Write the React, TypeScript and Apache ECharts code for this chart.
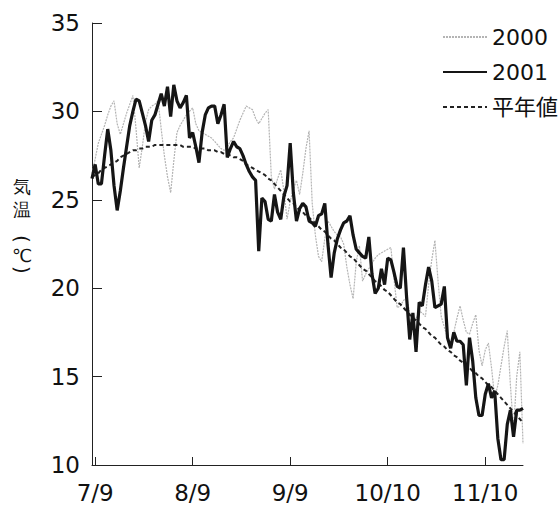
import React, { useEffect, useRef } from "react";
import * as echarts from "echarts";

// Daily temperatures from 7/8 to 11/22 (one value per day)
const startMonth = 7;
const startDay = 8;
const dayCount = 138;
const tickLabels = ["7/9", "8/9", "9/9", "10/10", "11/10"];
const yTicks = [10, 15, 20, 25, 30, 35];
const seriesNames = ["2000", "2001", "平年値"];

const temps2000 = [
  26.5, 27.3, 28.2, 28.7, 29.2, 29.8, 30.3, 30.6, 29.3, 28.7,
  29.3, 29.9, 30.4, 30.9, 29.0, 26.8, 28.0, 29.4, 30.1, 30.3,
  30.4, 30.6, 29.0, 27.5, 26.3, 25.4, 27.2, 28.8, 29.2, 29.5,
  29.8, 30.0, 30.2, 29.3, 28.9, 28.8, 28.7, 28.6, 28.5, 28.3,
  28.1, 27.9, 27.8, 28.0, 28.3, 28.5, 29.0, 29.5, 29.9, 30.3,
  30.2, 30.1, 29.6, 29.3, 29.6, 29.9, 30.1, 26.3, 25.6, 26.2,
  26.7, 25.5, 23.9, 24.9, 25.6, 26.1, 25.3, 26.5, 27.9, 28.9,
  24.8, 23.0, 21.8, 21.5, 22.8, 23.8, 23.5, 23.2, 23.0, 22.9,
  22.5, 21.2, 20.2, 19.4, 21.5, 22.4, 20.4, 20.8, 21.1, 21.4,
  21.7, 21.9, 22.0, 22.1, 22.2, 22.3, 20.5, 18.9, 19.0, 19.3,
  19.5, 18.6, 17.8, 18.3, 18.7, 18.6, 18.4, 20.2, 21.6, 22.7,
  20.4, 18.4, 17.8, 17.2, 16.7, 17.5, 18.3, 19.0, 18.2, 17.5,
  17.4, 18.0, 18.5, 16.5, 15.6, 16.5, 16.9, 15.5, 13.8, 14.5,
  15.6, 16.7, 17.6, 14.5, 12.0, 15.0, 16.4, 11.2,
];

const temps2001 = [
  26.2, 27.0, 25.9, 25.9, 27.5, 29.0, 27.8, 25.8, 24.4, 25.5,
  26.8, 28.0, 29.2, 30.0, 30.7, 30.6, 29.9, 29.2, 28.3, 29.5,
  29.8, 30.4, 31.0, 30.3, 31.4, 29.7, 31.5, 30.6, 30.2, 30.5,
  30.9, 28.5, 28.8, 28.0, 27.1, 28.8, 29.8, 30.2, 30.3, 30.3,
  29.3, 29.8, 30.4, 27.4, 27.9, 28.3, 28.0, 27.9, 27.5, 27.0,
  26.6, 26.3, 26.1, 22.1, 25.1, 24.9, 23.9, 23.8, 25.3, 24.3,
  23.9, 25.2, 25.8, 28.2, 25.4, 23.8, 24.5, 24.8, 24.6, 23.8,
  23.7, 23.5, 24.1, 24.2, 24.8, 22.5, 20.6, 22.0, 22.8, 23.3,
  23.7, 23.8, 24.1, 23.0, 22.2, 22.0, 21.8, 21.7, 22.9, 20.8,
  19.7, 20.0, 21.1, 20.2, 21.7, 21.6, 20.9, 20.1, 20.0, 22.3,
  19.5, 17.1, 18.6, 16.4, 19.2, 19.0, 20.2, 21.2, 20.4, 18.9,
  19.0, 19.1, 20.1, 17.2, 16.6, 17.5, 17.0, 17.0, 16.8, 14.5,
  17.2, 15.9, 13.8, 12.8, 12.8, 14.0, 14.6, 13.8, 14.2, 11.5,
  10.3, 10.3, 12.3, 13.1, 11.6, 13.1, 13.1, 13.2,
];

const tempsNormal = [
  26.3, 26.4, 26.5, 26.7, 26.8, 26.9, 27.0, 27.1, 27.2, 27.4,
  27.5, 27.6, 27.7, 27.8, 27.8, 27.9, 27.9, 28.0, 28.0, 28.0,
  28.1, 28.1, 28.1, 28.1, 28.1, 28.1, 28.1, 28.1, 28.1, 28.0,
  28.0, 28.0, 28.0, 27.9, 27.9, 27.9, 27.9, 27.8, 27.8, 27.8,
  27.7, 27.7, 27.6, 27.6, 27.5, 27.4, 27.4, 27.3, 27.2, 27.0,
  26.9, 26.8, 26.7, 26.6, 26.5, 26.4, 26.2, 26.1, 25.9, 25.7,
  25.5, 25.3, 25.1, 24.9, 24.8, 24.6, 24.4, 24.3, 24.1, 24.0,
  23.8, 23.7, 23.5, 23.3, 23.2, 23.0, 22.8, 22.7, 22.5, 22.3,
  22.2, 22.0, 21.8, 21.7, 21.5, 21.3, 21.1, 21.0, 20.8, 20.6,
  20.4, 20.3, 20.1, 19.9, 19.8, 19.6, 19.4, 19.2, 19.1, 18.9,
  18.7, 18.5, 18.3, 18.2, 18.0, 17.8, 17.7, 17.5, 17.3, 17.2,
  17.0, 16.8, 16.7, 16.5, 16.4, 16.2, 16.1, 15.9, 15.8, 15.6,
  15.5, 15.3, 15.2, 15.0, 14.9, 14.7, 14.5, 14.4, 14.2, 14.0,
  13.8, 13.6, 13.4, 13.2, 13.0, 12.8, 12.6, 12.4,
];

function buildCategories(): string[] {
  const out: string[] = [];
  const d = new Date(2001, startMonth - 1, startDay);
  for (let i = 0; i < dayCount; i++) {
    out.push(`${d.getMonth() + 1}/${d.getDate()}`);
    d.setDate(d.getDate() + 1);
  }
  return out;
}

export default function App() {
  const ref = useRef<HTMLDivElement>(null);
  useEffect(() => {
    if (!ref.current) return;
    const chart = echarts.init(ref.current, null, { renderer: "svg" });
    const categories = buildCategories();
    const isTick = (idx: number) => tickLabels.includes(categories[idx]);
    const font = "DejaVu Sans, Noto Sans CJK JP, sans-serif";
    const yNameChars = [
      { t: "気", y: 186, r: 0, s: 18 },
      { t: "温", y: 209, r: 0, s: 18 },
      { t: "(", y: 239, r: -Math.PI / 2, s: 20 },
      { t: "℃", y: 255, r: 0, s: 18 },
      { t: ")", y: 270, r: -Math.PI / 2, s: 20 },
    ];
    chart.setOption({
      animation: false,
      backgroundColor: "#ffffff",
      textStyle: { fontFamily: font },
      grid: { left: 92, right: 36, top: 23, bottom: 42, containLabel: false },
      legend: {
        orient: "vertical",
        left: 437,
        top: 21,
        padding: 5,
        itemWidth: 44,
        itemHeight: 14,
        itemGap: 13,
        itemStyle: { opacity: 0 },
        textStyle: { fontSize: 22, color: "#111", fontFamily: font },
        data: seriesNames,
      },
      graphic: yNameChars.map((c) => ({
        type: "text",
        x: 22,
        y: c.y,
        rotation: c.r,
        style: {
          text: c.t,
          fontSize: c.s,
          fontFamily: "DejaVu Sans",
          fill: "#111",
          textAlign: "center",
          textVerticalAlign: "middle",
        },
      })),
      xAxis: {
        type: "category",
        data: categories,
        boundaryGap: false,
        axisLine: { lineStyle: { color: "#222", width: 1 } },
        axisTick: {
          inside: true,
          length: 8,
          interval: (idx: number) => isTick(idx),
          lineStyle: { color: "#222" },
        },
        axisLabel: {
          interval: (idx: number) => isTick(idx),
          fontSize: 23,
          color: "#111",
          margin: 16,
        },
        splitLine: { show: false },
      },
      yAxis: {
        type: "value",
        min: yTicks[0],
        max: yTicks[yTicks.length - 1],
        interval: 5,
        axisLine: { show: true, lineStyle: { color: "#222", width: 1 } },
        axisTick: { show: true, inside: true, length: 10, lineStyle: { color: "#222" } },
        axisLabel: { fontSize: 23, color: "#111", margin: 12 },
        splitLine: { show: false },
      },
      series: [
        {
          name: seriesNames[0],
          type: "line",
          data: temps2000,
          symbol: "none",
          lineStyle: { color: "#b4b4b4", width: 1.2, type: [2, 1] },
          itemStyle: { color: "#b4b4b4" },
          z: 1,
        },
        {
          name: seriesNames[1],
          type: "line",
          data: temps2001,
          symbol: "none",
          lineStyle: { color: "#151515", width: 3.2 },
          itemStyle: { color: "#151515" },
          z: 3,
        },
        {
          name: seriesNames[2],
          type: "line",
          data: tempsNormal,
          symbol: "none",
          lineStyle: { color: "#222", width: 2, type: [4, 3] },
          itemStyle: { color: "#222" },
          z: 2,
        },
      ],
    });
    return () => chart.dispose();
  }, []);
  return (
    <div
      ref={ref}
      style={{ position: "fixed", left: 0, top: 0, width: 559, height: 507, background: "#fff" }}
    />
  );
}
